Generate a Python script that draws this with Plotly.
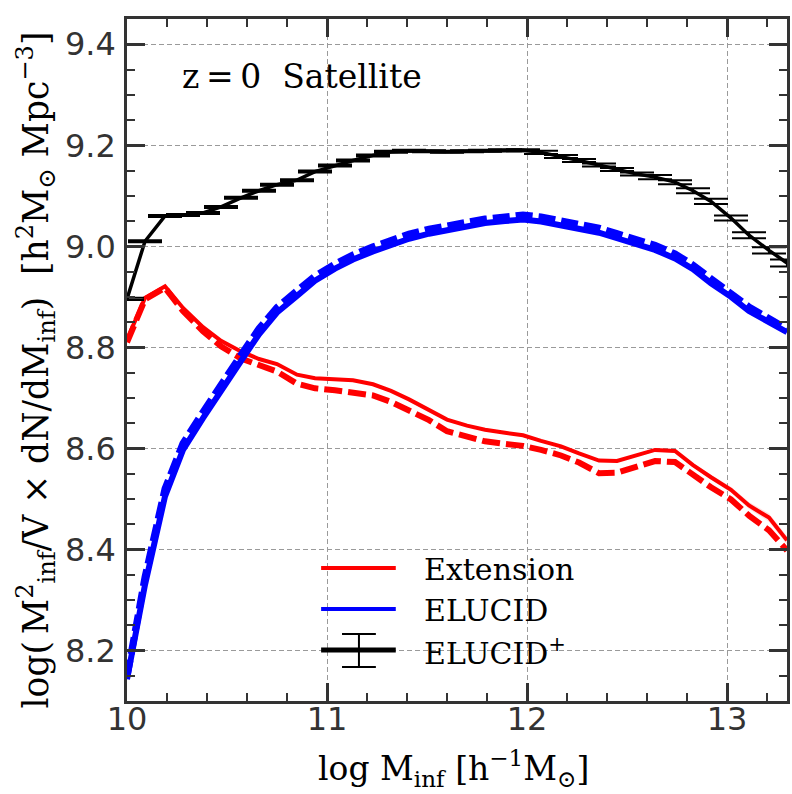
import plotly.graph_objects as go

# Infall-mass bins (log M_inf)
log_m = [10.00, 10.09, 10.19, 10.28, 10.38, 10.47, 10.57, 10.66, 10.75, 10.85,
         10.94, 11.04, 11.13, 11.23, 11.32, 11.41, 11.51, 11.60, 11.70, 11.79,
         11.89, 11.98, 12.07, 12.17, 12.26, 12.36, 12.45, 12.55, 12.64, 12.74,
         12.83, 12.92, 13.02, 13.11, 13.21, 13.30]

# ELUCID+ (with error bars)
elucid_plus = [8.896, 9.010, 9.060, 9.062, 9.066, 9.078, 9.096, 9.110, 9.122, 9.131,
               9.148, 9.160, 9.170, 9.180, 9.187, 9.189, 9.188, 9.187, 9.188, 9.189,
               9.190, 9.190, 9.186, 9.178, 9.170, 9.161, 9.152, 9.143, 9.137, 9.127,
               9.110, 9.089, 9.056, 9.022, 8.992, 8.967]
elucid_plus_err = [0.002, 0.002, 0.002, 0.002, 0.002, 0.002, 0.002, 0.002, 0.002, 0.002,
                   0.002, 0.002, 0.002, 0.002, 0.002, 0.002, 0.002, 0.002, 0.002, 0.002,
                   0.002, 0.002, 0.003, 0.003, 0.003, 0.003, 0.003, 0.003, 0.004, 0.004,
                   0.005, 0.005, 0.005, 0.006, 0.006, 0.007]

# Extension: solid and dashed variants, plus scatter band of the solid one
extension = [8.815, 8.898, 8.921, 8.878, 8.840, 8.813, 8.792, 8.777, 8.767, 8.746,
             8.739, 8.737, 8.735, 8.727, 8.714, 8.697, 8.675, 8.657, 8.645, 8.637,
             8.631, 8.626, 8.615, 8.604, 8.590, 8.576, 8.575, 8.586, 8.597, 8.595,
             8.567, 8.543, 8.518, 8.487, 8.463, 8.418]
extension_band = [0.001, 0.001, 0.001, 0.001, 0.001, 0.001, 0.001, 0.001, 0.001, 0.001,
                  0.001, 0.001, 0.001, 0.001, 0.001, 0.001, 0.002, 0.002, 0.002, 0.002,
                  0.002, 0.002, 0.002, 0.002, 0.002, 0.003, 0.003, 0.003, 0.003, 0.004,
                  0.004, 0.005, 0.006, 0.007, 0.008, 0.008]
extension_dash = [8.810, 8.895, 8.918, 8.872, 8.832, 8.802, 8.778, 8.764, 8.752, 8.728,
                  8.719, 8.715, 8.711, 8.705, 8.692, 8.675, 8.656, 8.634, 8.622, 8.614,
                  8.609, 8.605, 8.597, 8.586, 8.572, 8.551, 8.552, 8.563, 8.575, 8.573,
                  8.547, 8.523, 8.499, 8.467, 8.438, 8.398]

# ELUCID: solid and dashed variants
elucid = [8.143, 8.330, 8.505, 8.597, 8.660, 8.716, 8.773, 8.826, 8.869, 8.902,
          8.932, 8.956, 8.974, 8.990, 9.004, 9.015, 9.025, 9.032, 9.040, 9.046,
          9.050, 9.053, 9.049, 9.042, 9.037, 9.027, 9.016, 9.004, 8.993, 8.976,
          8.955, 8.927, 8.900, 8.872, 8.850, 8.830]
elucid_dash = [8.148, 8.345, 8.520, 8.610, 8.672, 8.728, 8.785, 8.837, 8.879, 8.912,
               8.941, 8.965, 8.983, 8.999, 9.013, 9.024, 9.034, 9.041, 9.048, 9.054,
               9.058, 9.062, 9.058, 9.051, 9.045, 9.036, 9.025, 9.013, 9.002, 8.985,
               8.963, 8.936, 8.908, 8.880, 8.857, 8.836]

legend_labels = ["Extension", "ELUCID", "ELUCID<sup>+</sup>"]
legend_colors = ["#ff0000", "#0000ff", "#000000"]

x_ticks = [10, 11, 12, 13]
x_range = [10.0, 13.3]
y_range = [8.1, 9.45]

W, H = 792, 794
L, R, T, B = 127, 2, 19, 93
PW, PH = W - L - R, H - T - B

SERIF = "DejaVu Serif"
SANS = "DejaVu Sans"


def px(xp):
    return (xp - L) / PW


def py(yp):
    return (H - B - yp) / PH


fig = go.Figure()

# Extension band + lines
band_hi = [v + e for v, e in zip(extension, extension_band)]
band_lo = [v - e for v, e in zip(extension, extension_band)]
fig.add_trace(go.Scatter(x=log_m, y=band_lo, mode="lines", line=dict(width=0),
                         showlegend=False, hoverinfo="skip"))
fig.add_trace(go.Scatter(x=log_m, y=band_hi, mode="lines", line=dict(width=0),
                         fill="tonexty", fillcolor="rgba(255,0,0,0.12)",
                         showlegend=False, hoverinfo="skip"))
fig.add_trace(go.Scatter(x=log_m, y=extension, mode="lines",
                         line=dict(color="#ff0000", width=4), showlegend=False))
fig.add_trace(go.Scatter(x=log_m, y=extension_dash, mode="lines",
                         line=dict(color="#ff0000", width=6, dash="18px,6px"),
                         showlegend=False))

# ELUCID lines
fig.add_trace(go.Scatter(x=log_m, y=elucid, mode="lines",
                         line=dict(color="#0000ff", width=6), showlegend=False))
fig.add_trace(go.Scatter(x=log_m, y=elucid_dash, mode="lines",
                         line=dict(color="#0000ff", width=7, dash="17px,6px"),
                         showlegend=False))

# ELUCID+ with error bars
fig.add_trace(go.Scatter(x=log_m, y=elucid_plus, mode="lines",
                         line=dict(color="#000000", width=3.5),
                         error_y=dict(type="data", array=elucid_plus_err, visible=True,
                                      color="#000000", thickness=2, width=17),
                         showlegend=False))

axis_common = dict(
    showline=True, linecolor="#333333", linewidth=2.5, mirror="ticks",
    ticks="inside", ticklen=18, tickwidth=3, tickcolor="#333333",
    showgrid=True, gridcolor="#9a9a9a", gridwidth=1, griddash="5px,3px",
    zeroline=False,
    tickfont=dict(family=SANS, size=32, color="#333333"),
)

fig.update_xaxes(range=x_range, tickvals=x_ticks, ticktext=[str(v) for v in x_ticks],
                 ticklabelstandoff=-12,
                 minor=dict(ticks="inside", ticklen=8, tickwidth=1.5,
                            tickcolor="#333333", dtick=0.2, tick0=10, showgrid=False),
                 **axis_common)
fig.update_yaxes(range=y_range, dtick=0.2, tick0=8.2, tickformat=".1f",
                 ticklabelstandoff=2,
                 minor=dict(ticks="inside", ticklen=8, tickwidth=1.5,
                            tickcolor="#333333", dtick=0.05, tick0=8.2, showgrid=False),
                 **axis_common)

annotations = [
    dict(text="z\u2009=\u20090\u00a0\u00a0Satellite", x=px(180), y=py(76),
         xref="paper", yref="paper",
         xanchor="left", yanchor="middle", showarrow=False,
         font=dict(family=SERIF, size=33, color="#000000")),
    dict(text="log\u00a0M<sub>inf</sub>\u00a0[h<sup>\u22121</sup>M<sub>\u2299</sub>]",
         x=px(455), y=py(769), xref="paper", yref="paper",
         xanchor="center", yanchor="middle", showarrow=False,
         font=dict(family=SERIF, size=33, color="#000000")),
    dict(text="log(\u2009M<sup>2</sup><sub>inf</sub>/V\u00a0\u00d7\u00a0dN/dM<sub>inf</sub>)"
              "\u00a0\u00a0[h<sup>2</sup>M<sub>\u2299</sub>\u00a0Mpc<sup>\u22123</sup>]",
         x=px(36), y=py(370), xref="paper", yref="paper", textangle=-90,
         xanchor="center", yanchor="middle", showarrow=False,
         font=dict(family=SERIF, size=34.5, color="#000000")),
]

# Legend drawn by hand so the sample lines are full length
shapes = []
rows = [568, 609, 650]
for label, color, yrow in zip(legend_labels, legend_colors, rows):
    shapes.append(dict(type="line", xref="paper", yref="paper",
                       x0=px(322), x1=px(397), y0=py(yrow), y1=py(yrow),
                       line=dict(color=color, width=4 if color != "#000000" else 5)))
    annotations.append(dict(text=label, x=px(423), y=py(yrow + 1), xref="paper", yref="paper",
                            xanchor="left", yanchor="middle", showarrow=False,
                            font=dict(family=SERIF, size=30, color="#000000")))
# error-bar glyph for ELUCID+
shapes.append(dict(type="line", xref="paper", yref="paper", x0=px(360), x1=px(360),
                   y0=py(634), y1=py(667), line=dict(color="#000000", width=2)))
for ycap in (634, 667):
    shapes.append(dict(type="line", xref="paper", yref="paper", x0=px(343), x1=px(377),
                       y0=py(ycap), y1=py(ycap), line=dict(color="#000000", width=2)))

fig.update_layout(
    width=W, height=H,
    margin=dict(l=L, r=R, t=T, b=B),
    paper_bgcolor="white", plot_bgcolor="white",
    showlegend=False,
    annotations=annotations,
    shapes=shapes,
)

fig.write_html("out.html")
